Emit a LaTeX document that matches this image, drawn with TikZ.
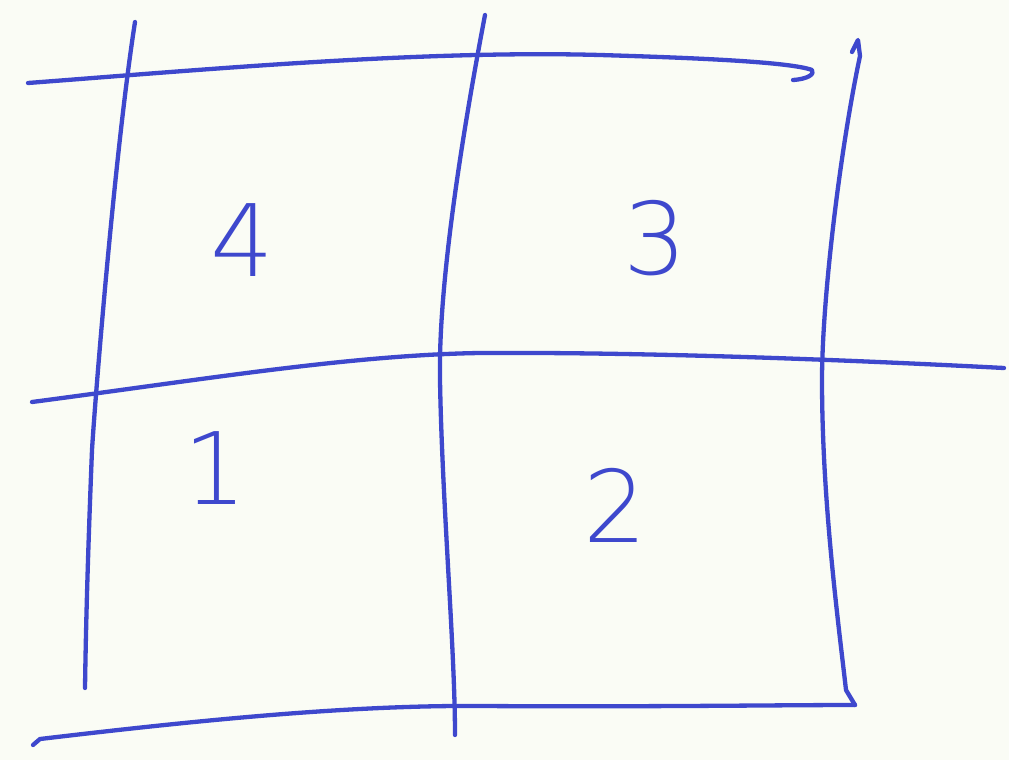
\documentclass[tikz,border=0pt]{standalone}
\usepackage{fontspec}
\setmainfont{DejaVu Sans}
\definecolor{pen}{RGB}{62,72,205}
\definecolor{paper}{RGB}{250,252,245}
\tikzset{
  stroke/.style={draw=pen, line width=4.3pt, line cap=round, line join=round},
  digit/.style={text=pen, font=\fontsize{100}{105}\selectfont\fontspec{DejaVu Sans ExtraLight}},
}
\begin{document}
\begin{tikzpicture}[x=1pt,y=-1pt]
\fill[paper] (0,0) rectangle (1009,760);
\useasboundingbox (0,0) rectangle (1009,760);
% horizontal lines
\coordinate (t0) at (28,83);
\coordinate (t1) at (812,70);
\coordinate (t2) at (793,80);
\draw[stroke] (t0) .. controls (200,70) and (420,50) .. (600,55) .. controls (700,58) and (790,62) .. (t1) .. controls (815,74) and (808,79) .. (t2);
\coordinate (m0) at (32,402);
\coordinate (m1) at (1004,368);
\draw[stroke] (m0) .. controls (200,380) and (350,355) .. (480,353) .. controls (650,352) and (850,360) .. (m1);
\coordinate (b0) at (33,745);
\coordinate (b1) at (855,705);
\draw[stroke] (b0) -- (40,739) .. controls (200,720) and (350,705) .. (480,706) .. controls (650,707) and (780,705) .. (b1);
% vertical lines
\coordinate (l0) at (135,22);
\coordinate (l1) at (85,688);
\draw[stroke] (l0) .. controls (115,150) and (95,400) .. (92,450) .. controls (88,550) and (86,620) .. (l1);
\coordinate (c0) at (485,15);
\coordinate (c1) at (455,735);
\draw[stroke] (c0) .. controls (465,120) and (438,280) .. (440,380) .. controls (442,500) and (455,650) .. (c1);
\coordinate (r0) at (858,40);
\coordinate (r1) at (855,705);
\draw[stroke] (852,52) -- (r0) -- (860,56) .. controls (840,150) and (822,300) .. (822,380) .. controls (822,500) and (838,620) .. (846,690) -- (r1);
% digits
\node[digit] (n4) at (242,240) {4};
\node[digit] (n3) at (655,238) {3};
\node[digit] (n1) at (215,468) {1};
\node[digit] (n2) at (615,505) {2};
\end{tikzpicture}
\end{document}
